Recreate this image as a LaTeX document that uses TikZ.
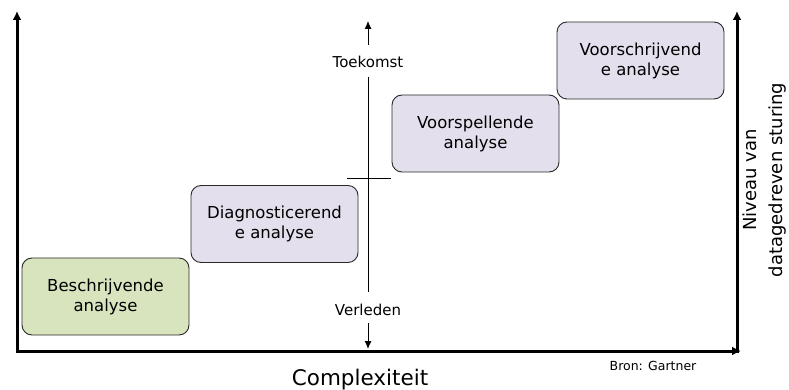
\documentclass[tikz,border=0pt]{standalone}
\usepackage{fontspec}
\setmainfont{DejaVu Sans}
\usepackage{xcolor}
\usetikzlibrary{arrows.meta, positioning, calc}
\definecolor{stepgreen}{RGB}{215, 228, 189}
\definecolor{steplilac}{RGB}{228, 223, 236}
\definecolor{boxline}{RGB}{40, 40, 40}

\begin{document}
\begin{tikzpicture}[x=1pt, y=-1pt,
    phase/.style={rectangle, draw=boxline, fill=steplilac, line width=0.9pt, rounded corners=10pt, minimum width=167pt, minimum height=77pt, align=center, font=\fontsize{16.5}{20}\selectfont, inner sep=2pt},
    axis/.style={line width=3pt, -{Latex[length=9pt, width=9pt]}},
    timeline/.style={line width=0.9pt, >={Latex[length=8pt, width=7pt]}},
    tlabel/.style={font=\fontsize{15}{18}\selectfont, inner sep=1pt}
]
    \useasboundingbox (0,0) rectangle (789,390);

    % Axes
    \coordinate (origin) at (17,351);
    \coordinate (ytop) at (17,11);
    \coordinate (xend) at (741,351);
    \coordinate (rbase) at (737,352.5);
    \coordinate (rtop) at (737,11);
    \draw[axis] (origin) -- (ytop);
    \draw[axis] ($(origin)+(-1.5,0)$) -- (xend);
    \draw[axis] (rbase) -- (rtop);

    % Phases
    \node[phase, fill=stepgreen] (descriptive) at (105.5,296.5) {Beschrijvende\\analyse};
    \node[phase] (diagnostic) at (274.5,224) {Diagnosticerend\\e analyse};
    \node[phase] (predictive) at (475.5,133.5) {Voorspellende\\analyse};
    \node[phase] (prescriptive) at (640.5,60.5) {Voorschrijvend\\e analyse};

    % Time line
    \node[tlabel] (future) at (368,62) {Toekomst};
    \node[tlabel] (past) at (368,310) {Verleden};
    \coordinate (futuretip) at (368,21);
    \coordinate (pasttip) at (368,349);
    \draw[timeline, ->] (368,45) -- (futuretip);
    \draw[timeline] (368,77) -- (368,292);
    \draw[timeline, ->] (368,323) -- (pasttip);
    \coordinate (nowleft) at (347,178);
    \coordinate (nowright) at (391,178);
    \draw[timeline] (nowleft) -- (nowright);

    % Labels
    \node[font=\fontsize{21.5}{24}\selectfont] (xlabel) at (360,380) {Complexiteit};
    \node[font=\fontsize{12.5}{14}\selectfont] (source) at (653,366) {Bron: Gartner};
    \node[rotate=90, align=center, font=\fontsize{18}{26}\selectfont] (ylabel) at (765,180) {Niveau van\\datagedreven sturing};
\end{tikzpicture}
\end{document}
